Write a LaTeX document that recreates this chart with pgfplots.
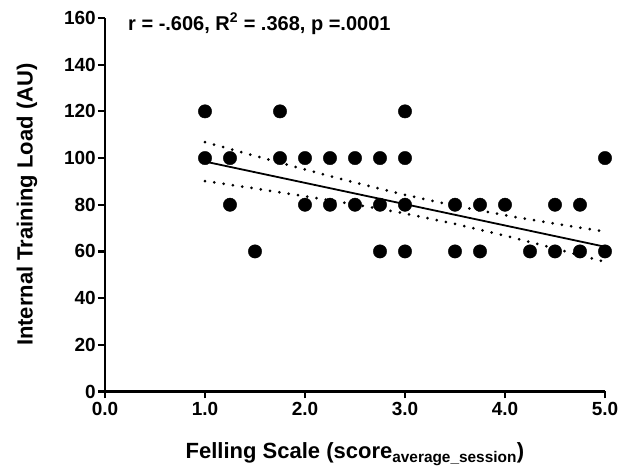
\documentclass[border=0pt]{standalone}
\usepackage{fontspec}
\setmainfont{Liberation Sans}
\usepackage{pgfplots}
\pgfplotsset{compat=1.18}
\begin{document}
\begin{tikzpicture}
\begin{axis}[
  scale only axis, width=500pt, height=373.5pt,
  xmin=0, xmax=5, ymin=0, ymax=160,
  axis x line=bottom, axis y line=left,
  axis line style={line width=2.6pt, -},
  xtick={0,1,2,3,4,5}, ytick={0,20,...,160},
  tick style={line width=2.2pt, black},
  tick align=outside, major tick length=7pt,
  xticklabel style={/pgf/number format/.cd, fixed, fixed zerofill, precision=1},
  /pgf/number format/assume math mode=true,
  ticklabel style={font=\fontsize{19}{19}\selectfont\bfseries},
  yticklabel style={inner xsep=2pt},
  xlabel={Felling Scale (score\textsubscript{average\_session})},
  ylabel={Internal Training Load (AU)},
  label style={font=\fontsize{22}{22}\selectfont\bfseries},
  x label style={at={(axis description cs:0.5,-0.167)}, anchor=center},
  y label style={at={(axis description cs:-0.156,0.5)}, anchor=center},
  clip=false,
]
\addplot[black, line width=3pt, line cap=round, dash pattern=on 0pt off 9.4pt] coordinates {
 (1,106.85) (1.5,100.92) (2,95.11) (2.5,89.49) (3,84.25) (3.5,79.57) (4,75.50) (4.5,71.87) (5,68.50)};
\addplot[black, line width=3pt, line cap=round, dash pattern=on 0pt off 9.4pt] coordinates {
 (1,90.15) (1.5,86.96) (2,83.65) (2.5,80.13) (3,76.25) (3.5,71.81) (4,66.76) (4.5,61.25) (5,55.50)};
\addplot[black, line width=1.8pt] coordinates {(1,98.5) (5,62.0)};
\addplot[only marks, mark=*, mark size=6.7pt, black, mark options={fill=black}] coordinates {
 (1,120) (1,100)
 (1.25,100) (1.25,80)
 (1.5,60)
 (1.75,120) (1.75,100)
 (2,100) (2,80)
 (2.25,100) (2.25,80)
 (2.5,100) (2.5,80)
 (2.75,100) (2.75,80) (2.75,60)
 (3,120) (3,100) (3,80) (3,60)
 (3.5,80) (3.5,60)
 (3.75,80) (3.75,60)
 (4,80)
 (4.25,60)
 (4.5,80) (4.5,60)
 (4.75,80) (4.75,60)
 (5,100) (5,60)};
\node[anchor=west, font=\fontsize{20}{20}\selectfont\bfseries, inner sep=0pt] at (axis cs:0.23,157.5) {r = -.606, R\textsuperscript{2} = .368, p =.0001};
\path (rel axis cs:0,0) ++(-105pt,-78.5pt) rectangle ++(633pt,470pt);
\end{axis}
\end{tikzpicture}
\end{document}
